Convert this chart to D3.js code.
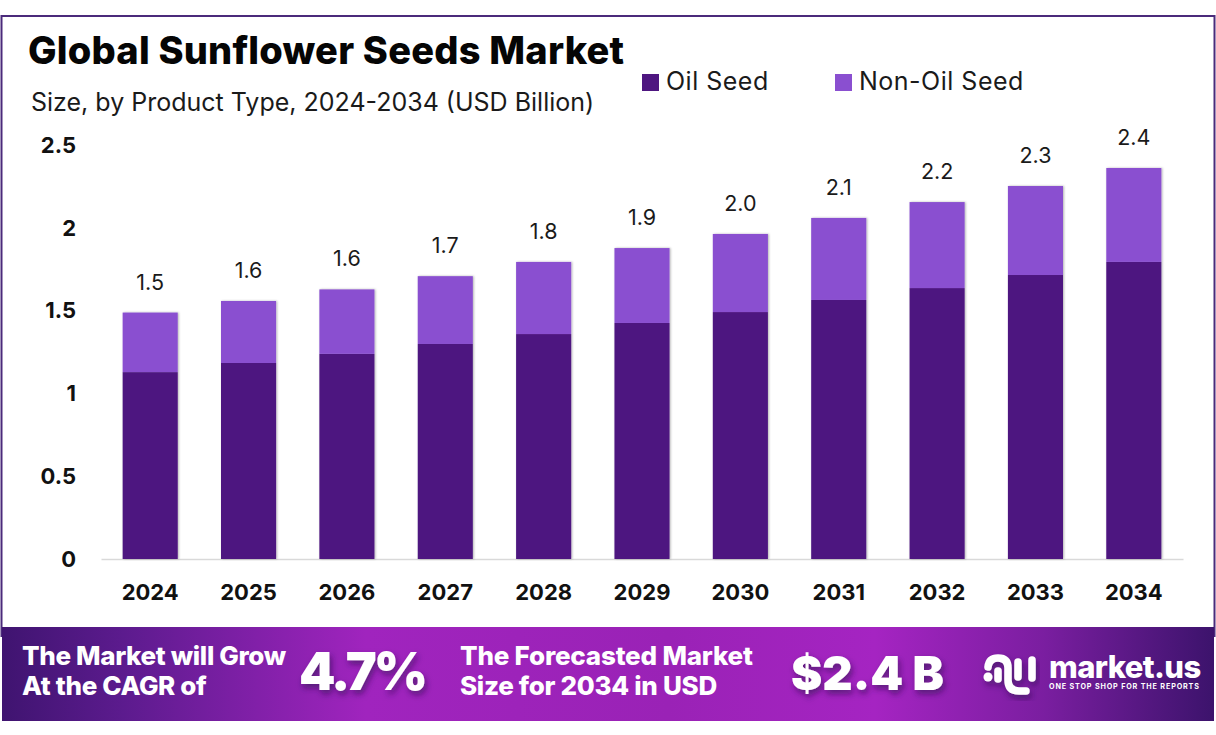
<!DOCTYPE html>
<html>
<head>
<meta charset="utf-8">
<script src="https://cdn.jsdelivr.net/npm/d3@7"></script>
<style>
  html, body { margin: 0; padding: 0; background: #fff; }
  text { font-family: Inter, "Open Sans", sans-serif; }
</style>
</head>
<body>
<div id="plot"></div>
<script>
// values
const years = ["2024", "2025", "2026", "2027", "2028", "2029", "2030", "2031", "2032", "2033", "2034"];
const oilSeed = [1.13, 1.185, 1.24, 1.30, 1.36, 1.427, 1.493, 1.566, 1.638, 1.717, 1.796];
const nonOilSeed = [0.36, 0.375, 0.39, 0.41, 0.436, 0.453, 0.472, 0.496, 0.52, 0.538, 0.568];
const totalLabels = ["1.5", "1.6", "1.6", "1.7", "1.8", "1.9", "2.0", "2.1", "2.2", "2.3", "2.4"];
const yTicks = [0, 0.5, 1, 1.5, 2, 2.5];
const seriesNames = ["Oil Seed", "Non-Oil Seed"];
const seriesColors = ["#4e1680", "#8a4fd0"];

const W = 1216, H = 735;

const svg = d3.select("#plot")
  .append("svg")
  .attr("width", W)
  .attr("height", H)
  .style("display", "block");

const defs = svg.append("defs");

// banner gradient
const grad = defs.append("linearGradient").attr("id", "banner");
[[0, "#3f1470"], [0.1, "#5c1b8e"], [0.3, "#a024be"], [0.55, "#9a22b6"], [0.72, "#a524c2"], [0.86, "#7a1ea0"], [1, "#3c136c"]]
  .forEach(s => grad.append("stop").attr("offset", s[0]).attr("stop-color", s[1]));

const shadow = defs.append("filter").attr("id", "soft")
  .attr("x", "-10%").attr("y", "-20%").attr("width", "125%").attr("height", "150%");
shadow.append("feDropShadow")
  .attr("dx", 2).attr("dy", 4).attr("stdDeviation", 3)
  .attr("flood-color", "#2a0a50").attr("flood-opacity", 0.6);

const barShadow = defs.append("filter").attr("id", "barShadow")
  .attr("x", "-5%").attr("y", "-5%").attr("width", "110%").attr("height", "110%");
barShadow.append("feDropShadow")
  .attr("dx", 1).attr("dy", 0).attr("stdDeviation", 1)
  .attr("flood-color", "#000").attr("flood-opacity", 0.3);

// outer frame
svg.append("rect")
  .attr("x", 1.5).attr("y", 16)
  .attr("width", W - 3).attr("height", 620)
  .attr("fill", "#fff")
  .attr("stroke", "#4b2a7b")
  .attr("stroke-width", 2);

// title block
svg.append("text")
  .attr("x", 28).attr("y", 64)
  .attr("font-size", 38).attr("font-weight", 800)
  .attr("letter-spacing", 0.22)
  .attr("fill", "#050505")
  .text("Global Sunflower Seeds Market");

svg.append("text")
  .attr("x", 31).attr("y", 111)
  .attr("font-size", 25).attr("font-weight", 400)
  .attr("fill", "#1a1a1a")
  .text("Size, by Product Type, 2024-2034 (USD Billion)");

// scales
const x = d3.scaleBand()
  .domain(years)
  .range([101, 1183])
  .paddingInner(0.44)
  .paddingOuter(0.22);

const y = d3.scaleLinear()
  .domain([0, 2.5])
  .range([559, 145.5]);

// axes
const xAxis = svg.append("g")
  .attr("transform", "translate(0,559)")
  .call(d3.axisBottom(x).tickSize(0).tickPadding(25));
xAxis.select(".domain").attr("stroke", "#d9d9d9").attr("stroke-width", 1.5);
xAxis.selectAll("text")
  .attr("font-size", 22).attr("font-weight", 700)
  .attr("fill", "#111")
  .style("font-family", "Inter, sans-serif");

const yAxis = svg.append("g")
  .attr("transform", "translate(76,0)")
  .call(d3.axisLeft(y).tickValues(yTicks).tickSize(0).tickPadding(0).tickFormat(d3.format("")));
yAxis.select(".domain").remove();
yAxis.selectAll("text")
  .attr("font-size", 22).attr("font-weight", 700)
  .attr("fill", "#111")
  .style("font-family", "Inter, sans-serif");

// stacked bars
const rows = years.map((year, i) => ({ year, oil: oilSeed[i], nonOil: nonOilSeed[i] }));
const stacked = d3.stack().keys(["oil", "nonOil"])(rows);

svg.append("g")
  .attr("filter", "url(#barShadow)")
  .selectAll(".series")
  .data(stacked)
  .enter()
  .append("g")
  .attr("class", "series")
  .attr("fill", (d, i) => seriesColors[i])
  .selectAll("rect")
  .data(d => d)
  .enter()
  .append("rect")
  .attr("x", d => x(d.data.year))
  .attr("y", d => y(d[1]))
  .attr("width", x.bandwidth())
  .attr("height", d => y(d[0]) - y(d[1]));

// totals above the bars
svg.selectAll(".total")
  .data(rows)
  .enter()
  .append("text")
  .attr("class", "total")
  .attr("x", d => x(d.year) + x.bandwidth() / 2)
  .attr("y", d => y(d.oil + d.nonOil) - 23)
  .attr("text-anchor", "middle")
  .attr("font-size", 21.5)
  .attr("fill", "#1a1a1a")
  .text((d, i) => totalLabels[i]);

// legend
const legendX = [642, 835];
seriesNames.forEach((name, i) => {
  svg.append("rect")
    .attr("x", legendX[i]).attr("y", 74)
    .attr("width", 17).attr("height", 17)
    .attr("fill", seriesColors[i]);
  svg.append("text")
    .attr("x", legendX[i] + 24).attr("y", 90)
    .attr("font-size", 25)
    .attr("letter-spacing", 0.5)
    .attr("fill", "#1a1a1a")
    .text(name);
});

// bottom banner
svg.append("rect")
  .attr("x", 2).attr("y", 627)
  .attr("width", W - 4).attr("height", 94)
  .attr("fill", "url(#banner)");

function bannerText(str, px, py, size, weight, filtered) {
  const t = svg.append("text")
    .attr("x", px).attr("y", py)
    .attr("font-size", size).attr("font-weight", weight)
    .attr("fill", "#fff")
    .text(str);
  if (filtered) t.attr("filter", "url(#soft)");
  return t;
}

bannerText("The Market will Grow", 22, 665, 26, 800).attr("letter-spacing", -0.35);
bannerText("At the CAGR of", 22, 695, 26, 800).attr("letter-spacing", -0.35);
bannerText("4.7%", 299, 690, 52, 900, true).attr("letter-spacing", -2.8);
bannerText("The Forecasted Market", 460, 665, 26, 800).attr("letter-spacing", -0.2);
bannerText("Size for 2034 in USD", 460, 695, 26, 800).attr("letter-spacing", -0.3);
bannerText("$2.4 B", 791, 690, 47, 900, true);

// market.us logo
const logo = svg.append("g")
  .attr("fill", "none").attr("stroke", "#fff")
  .attr("stroke-linecap", "round").attr("stroke-width", 7.5)
  .attr("filter", "url(#soft)");
logo.append("circle").attr("cx", 988).attr("cy", 677).attr("r", 4.5).attr("fill", "#fff").attr("stroke", "none");
logo.append("path").attr("d", "M988 667 Q989 658 998 658 Q1008 658 1008 668 L1008 680 Q1008 691 1019 691 L1026 691");
logo.append("path").attr("d", "M998 671 L998 679");
logo.append("path").attr("d", "M1018 662 L1018 677");
logo.append("path").attr("d", "M1032 660 L1032 678");

bannerText("market.us", 1049, 678, 31, 800).attr("letter-spacing", -0.6);
bannerText("ONE STOP SHOP FOR THE REPORTS", 1049, 689, 7.2, 700).attr("letter-spacing", 0.85);
</script>
</body>
</html>
